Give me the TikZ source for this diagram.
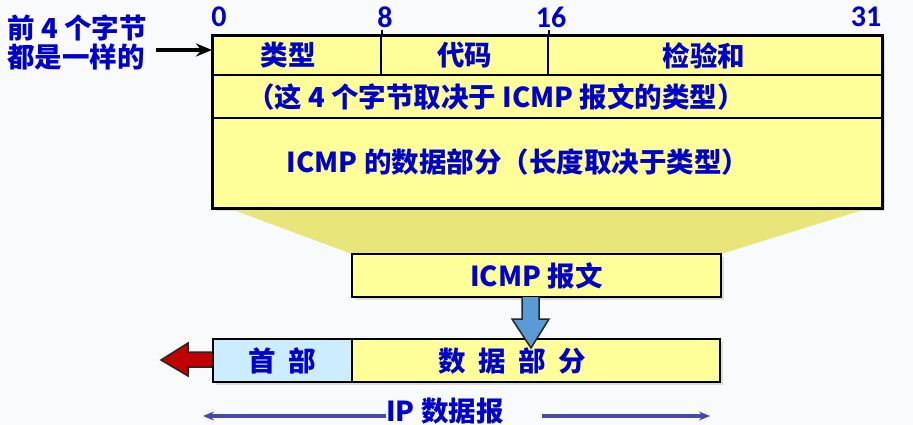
\documentclass[tikz,border=0pt]{standalone}
\usepackage{fontspec}
\setmainfont{Carlito}
\newfontfamily\cjk{Noto Sans CJK SC}
\usetikzlibrary{arrows.meta,shadows}

\definecolor{pagebg}{HTML}{F9FAFB}
\definecolor{fieldyellow}{HTML}{FFFF99}
\definecolor{funnelyellow}{HTML}{E8E67A}
\definecolor{headblue}{HTML}{CCECFF}
\definecolor{textblue}{HTML}{0000CC}
\definecolor{downblue}{HTML}{5B9BD5}
\definecolor{backred}{HTML}{C00000}
\definecolor{spanblue}{HTML}{4848A8}

\begin{document}
\begin{tikzpicture}[x=1pt,y=-1pt,
	field/.style={ draw, line width=2pt, fill=fieldyellow, inner sep=0pt, text=textblue, font=\cjk\bfseries\fontsize{27.5}{29}\selectfont },
	shadowed/.style={ drop shadow={shadow xshift=3pt, shadow yshift=-3pt, fill=black!18, opacity=0.7} },
	txt/.style={ text=textblue, inner sep=0pt, font=\cjk\bfseries\fontsize{27.5}{29}\selectfont },
	bitno/.style={ text=textblue, inner sep=0pt, font=\bfseries\fontsize{30}{32}\selectfont }
]

\useasboundingbox[fill=pagebg] (0,0) rectangle (913,425);

% ICMP message fields
\node at (547.5,122) (body) [field, shadowed, minimum width=669pt, minimum height=172pt] {};
\fill[funnelyellow] ([xshift=19pt]body.south west) -- ([xshift=-17pt]body.south east) -- (721,254) -- (352,254) -- cycle;
\node at (547.5,122) (frame) [field, minimum width=669pt, minimum height=172pt] {};
\node at (297,55.5) (type) [field, minimum width=168pt, minimum height=39pt] {\hspace*{-18pt}类型};
\node at (464.5,55.5) (code) [field, minimum width=167pt, minimum height=39pt] {代码};
\node at (715,55.5) (sum) [field, minimum width=334pt, minimum height=39pt] {\hspace*{-22pt}检验和};
\node at (547.5,96.5) (rest) [field, minimum width=669pt, minimum height=43pt] {};
\draw[line width=2.5pt] (frame.north west) rectangle (frame.south east);
\node at (496,96.5) (restlabel) [txt] {（这 4 个字节取决于 ICMP 报文的类型）};
\node at (518,162) (datalabel) [txt] {ICMP 的数据部分（长度取决于类型）};
\draw[line width=2pt] (type.north east) -- ++(0,-5);
\draw[line width=2pt] (code.north east) -- ++(0,-5);

% bit positions
\node at (219,17) (b0) [bitno] {0};
\node at (385,17) (b8) [bitno] {8};
\node at (551,17) (b16) [bitno] {16};
\node at (866,17) (b31) [bitno] {31};

\node at (77,42) (note) [txt, align=left] {前 4 个字节\\都是一样的};
\coordinate (notetip) at (156,50);
\draw[line width=3.5pt, -{Stealth[length=16pt,width=13pt]}] (notetip) -- (notetip -| type.west);

% ICMP message
\node at (536.5,275.5) (icmp) [field, shadowed, line width=2.5pt, minimum width=369pt, minimum height=43pt] {ICMP 报文};

% IP datagram
\node at (282.5,360.5) (head) [field, shadowed, fill=headblue, minimum width=139pt, minimum height=43pt] {首\ \ 部};
\node at (536,360.5) (data) [field, shadowed, minimum width=368pt, minimum height=43pt] {\hspace*{-48pt}数\ \ 据\ \ 部\ \ 分};

\draw[line width=1.5pt, fill=downblue, draw=black!85] (522,297) -- (522,319) -- (512,319) -- (531,348) -- (549,319) -- (539,319) -- (539,297);
\draw[line width=1.5pt, fill=backred, draw=black!85] (head.west |- 0,352) -- (188,352) -- (188,343) -- (161,360) -- (188,376) -- (188,367) -- (head.west |- 0,367);

\node at (445,411) (ip) [txt] {IP 数据报};
\coordinate (ipl) at (203,416);
\coordinate (ipr) at (710,416);
\coordinate (ipgap) at (542,416);
\draw[spanblue, line width=4pt, {Stealth[length=11pt,width=9pt]}-] (ipl) -- (ipl -| ip.west);
\draw[spanblue, line width=4pt, -{Stealth[length=11pt,width=9pt]}] (ipgap) -- (ipr);

\end{tikzpicture}
\end{document}
